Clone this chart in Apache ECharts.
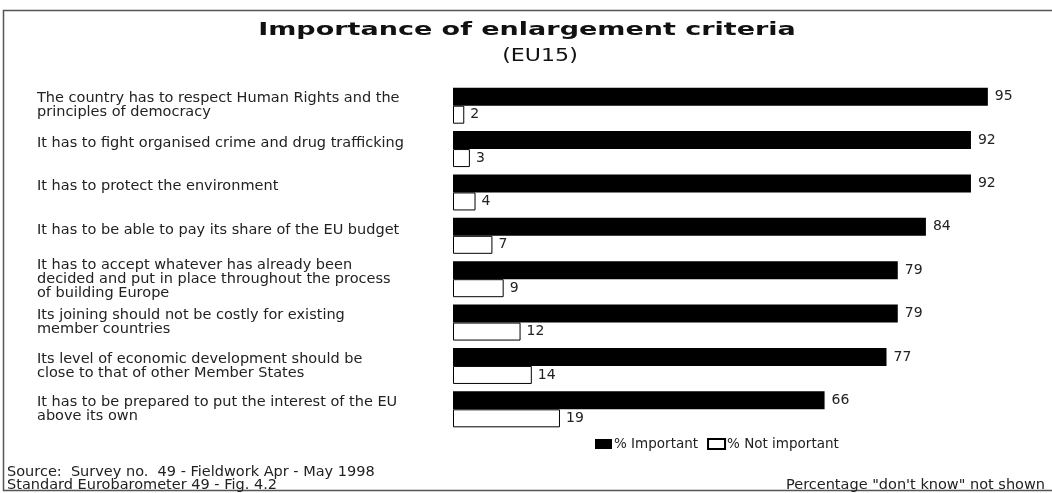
<!DOCTYPE html>
<html>
<head>
<meta charset="utf-8">
<style>
  html, body { margin: 0; padding: 0; background: #fff; }
  #chart { width: 1052px; height: 493px; }
</style>
<script src="https://cdn.jsdelivr.net/npm/echarts@6/dist/echarts.min.js"></script>
</head>
<body>
<div id="chart"></div>
<script>
// Enlargement criteria (top to bottom)
const categories = [
  "The country has to respect Human Rights and the\nprinciples of democracy",
  "It has to fight organised crime and drug trafficking",
  "It has to protect the environment",
  "It has to be able to pay its share of the EU budget",
  "It has to accept whatever has already been\ndecided and put in place throughout the process\nof building Europe",
  "Its joining should not be costly for existing\nmember countries",
  "Its level of economic development should be\nclose to that of other Member States",
  "It has to be prepared to put the interest of the EU\nabove its own"
];
const important = [95, 92, 92, 84, 79, 79, 77, 66];
const notImportant = [2, 3, 4, 7, 9, 12, 14, 19];
const seriesNames = ["% Important", "% Not important"];

const titleText = "Importance of enlargement criteria";
const subtitleText = "(EU15)";
const sourceLines = [
  "Source:  Survey no.  49 - Fieldwork Apr - May 1998",
  "Standard Eurobarometer 49 - Fig. 4.2"
];
const noteText = 'Percentage "don\'t know" not shown';

const FONT = "'DejaVu Sans', 'Liberation Sans', Arial, sans-serif";
const TEXT = "#222";
const LABEL_SIZE = 14.5;

const chart = echarts.init(document.getElementById("chart"), null, { renderer: "canvas" });

chart.setOption({
  backgroundColor: "#fff",
  animation: false,
  legend: {
    data: seriesNames,
    left: 590,
    top: 432,
    itemWidth: 17,
    itemHeight: 10,
    itemGap: 9,
    icon: "rect",
    textStyle: { fontFamily: FONT, fontSize: 13.5, color: TEXT, padding: [0, 0, 0, -3] }
  },
  grid: {
    left: 453, top: 84, width: 563, height: 347,
    containLabel: false,
    outerBoundsMode: "none"
  },
  xAxis: { type: "value", min: 0, max: 100, show: false },
  yAxis: {
    type: "category",
    data: categories,
    inverse: true,
    axisLine: { show: false },
    axisTick: { show: false },
    splitLine: { show: false },
    axisLabel: {
      align: "left",
      margin: 416,
      fontFamily: FONT,
      fontSize: LABEL_SIZE,
      lineHeight: 14,
      color: TEXT,
      // single-line criteria sit a little higher than the wrapped ones
      formatter: function (v) {
        return v.indexOf("\n") < 0 ? "{up|" + v + "}" : v;
      },
      rich: {
        up: {
          fontFamily: FONT,
          fontSize: LABEL_SIZE,
          lineHeight: 14,
          color: TEXT,
          padding: [0, 0, 12, 0]
        }
      }
    }
  },
  series: [
    {
      name: seriesNames[0],
      type: "bar",
      data: important,
      barCategoryGap: "17%",
      barGap: "0%",
      itemStyle: { color: "#000", borderColor: "#000", borderWidth: 0 },
      label: {
        show: true,
        position: "right",
        distance: 7,
        fontFamily: FONT,
        fontSize: 14,
        color: TEXT
      }
    },
    {
      name: seriesNames[1],
      type: "bar",
      data: notImportant,
      barCategoryGap: "17%",
      barGap: "0%",
      itemStyle: { color: "#fff", borderColor: "#000", borderWidth: 1 },
      label: {
        show: true,
        position: "right",
        distance: 6,
        fontFamily: FONT,
        fontSize: 14,
        color: TEXT
      }
    }
  ],
  graphic: [
    {
      type: "rect",
      shape: { x: 3.5, y: 10.5, width: 1060, height: 480 },
      style: { fill: "none", stroke: "#555", lineWidth: 1.5 },
      silent: true
    },
    {
      // heading, widened to the figure's broad lettering
      type: "text",
      x: 527,
      y: 30,
      scaleX: 1.5,
      style: {
        text: titleText,
        font: "bold 18px " + FONT,
        fill: "#111",
        align: "center",
        verticalAlign: "middle"
      }
    },
    {
      type: "text",
      x: 540,
      y: 57,
      scaleX: 1.3,
      style: {
        text: subtitleText,
        font: "17px " + FONT,
        fill: "#111",
        align: "center",
        verticalAlign: "middle"
      }
    },
    {
      type: "text",
      x: 7,
      y: 479,
      style: {
        text: sourceLines.join("\n"),
        font: "14.5px " + FONT,
        fill: TEXT,
        lineHeight: 13,
        verticalAlign: "middle"
      }
    },
    {
      type: "text",
      x: 1045,
      y: 485,
      style: {
        text: noteText,
        font: "14.5px " + FONT,
        fill: TEXT,
        align: "right",
        verticalAlign: "middle"
      }
    }
  ]
});
</script>
</body>
</html>
